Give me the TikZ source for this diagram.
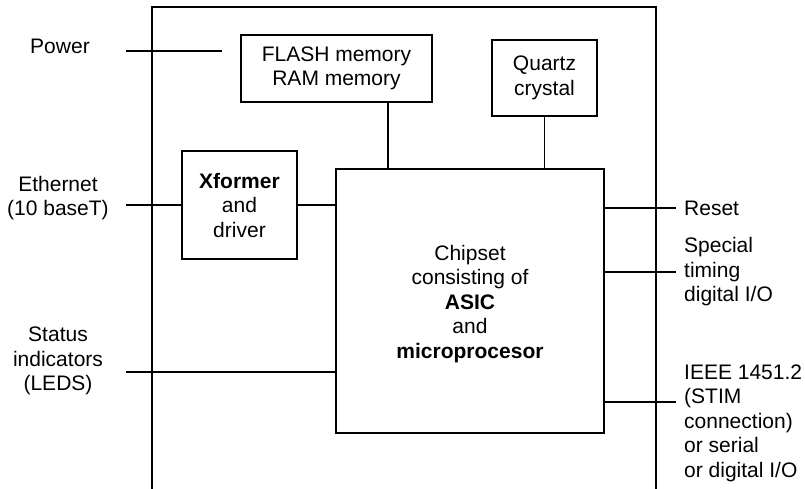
\documentclass[tikz,border=0pt]{standalone}
\usepackage{fontspec}
\setmainfont{Liberation Sans}
\begin{document}
\begin{tikzpicture}[x=1pt,y=-1pt,
  every node/.style={font=\fontsize{21}{24.5}\selectfont, inner sep=0pt},
  blk/.style={draw, line width=1.1pt, align=center},
  lbl/.style={align=center},
  rlbl/.style={align=left, anchor=west},
  wire/.style={line width=1.1pt}]
\useasboundingbox (0,0) rectangle (805,488);
% outer enclosure (open at bottom)
\draw[wire] (152,490) -- (152,7) -- (656,7) -- (656,490);
% blocks
\node[blk, minimum width=191pt, minimum height=67pt] (flash) at (336.5,68.5) {FLASH memory\\RAM memory};
\node[blk, minimum width=105pt, minimum height=76pt] (quartz) at (544.5,78) {Quartz\\crystal};
\node[blk, minimum width=115pt, minimum height=108pt] (xf) at (239.5,205) {\textbf{Xformer}\\and\\driver};
\node[blk, minimum width=268pt, minimum height=264pt] (chip) at (470,301) {};
\node[lbl] (chiptxt) at (470,304) {Chipset\\consisting of\\\textbf{ASIC}\\and\\\textbf{microprocesor}};
% outside labels
\node[lbl] (power) at (60,46) {Power};
\node[lbl] (eth) at (58,198) {Ethernet\\(10 baseT)};
\node[lbl] (status) at (58,361) {Status\\indicators\\(LEDS)};
\node[rlbl] (reset) at (684,208) {Reset};
\node[rlbl] (special) at (684,272) {Special\\timing\\digital I/O};
\node[rlbl] (ieee) at (684,423) {IEEE 1451.2\\(STIM\\connection)\\or serial\\or digital I/O};
% free ends
\coordinate (pwA) at (126,51);
\coordinate (pwB) at (222,51);
\coordinate (ethA) at (126,205);
\coordinate (stA) at (126,372);
\coordinate (rsB) at (676,208);
\coordinate (spB) at (676,272);
\coordinate (ieB) at (676,402);
\coordinate (flx) at (388,0);
% connectors
\draw[wire] (pwA) -- (pwB);
\draw[wire] (ethA) -- (xf.west);
\draw[wire] (xf.east) -- (xf.east -| chip.west);
\draw[wire] (stA) -- (stA -| chip.west);
\draw[wire] (rsB -| chip.east) -- (rsB);
\draw[wire] (spB -| chip.east) -- (spB);
\draw[wire] (ieB -| chip.east) -- (ieB);
\draw[wire] (flx |- flash.south) -- (flx |- chip.north);
\draw[wire] (quartz.south) -- (quartz.south |- chip.north);
\end{tikzpicture}
\end{document}
